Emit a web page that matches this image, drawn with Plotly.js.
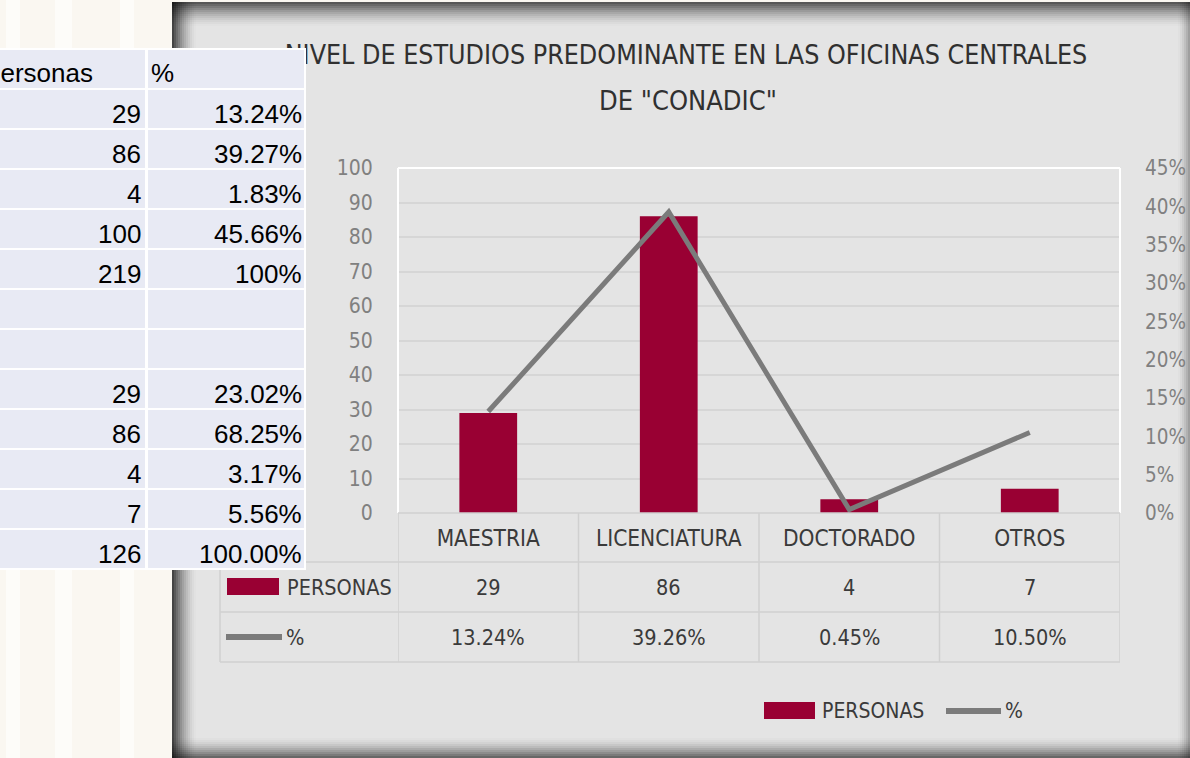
<!DOCTYPE html>
<html>
<head>
<meta charset="utf-8">
<script src="https://cdn.plot.ly/plotly-3.0.1.min.js"></script>
<style>html,body{margin:0;padding:0;background:#faf7f1;}#chart{width:1190px;height:758px;}</style>
</head>
<body>
<div id="chart"></div>
<script>
// ---- chart data ----
const categories = ['MAESTRIA', 'LICENCIATURA', 'DOCTORADO', 'OTROS'];
const personas = [29, 86, 4, 7];
const pct = [0.1324, 0.3926, 0.0045, 0.1050];
const pctLabels = ['13.24%', '39.26%', '0.45%', '10.50%'];
const leftTicks = [0, 10, 20, 30, 40, 50, 60, 70, 80, 90, 100];
const rightTicks = [0, 0.05, 0.10, 0.15, 0.20, 0.25, 0.30, 0.35, 0.40, 0.45];
const rightTickLabels = ['0%', '5%', '10%', '15%', '20%', '25%', '30%', '35%', '40%', '45%'];

// ---- spreadsheet overlay data ----
const sheetHeader = ['personas', '%'];
const sheetPersonas = ['29', '86', '4', '100', '219', '', '', '29', '86', '4', '7', '126'];
const sheetPct = ['13.24%', '39.27%', '1.83%', '45.66%', '100%', '', '', '23.02%', '68.25%', '3.17%', '5.56%', '100.00%'];

const titleLine1 = 'NIVEL DE ESTUDIOS PREDOMINANTE EN LAS OFICINAS CENTRALES';
const titleLine2 = 'DE "CONADIC"';

// ---- geometry helpers (pixel -> paper) ----
const FIG_W = 1190, FIG_H = 758;
const L = 398, R = 1120, T = 168, B = 513;
const W = R - L, H = B - T;
const px = x => (x - L) / W;
const py = y => (B - y) / H;

const NARROW = '"DejaVu Sans Condensed", "Liberation Sans Narrow", Arial, sans-serif';
const SHEET = '"Liberation Sans", Arial, sans-serif';
const BAR = '#990033';
const LINE = '#7b7b7b';
const PANEL = '#e4e4e4';

const shapes = [];
const annotations = [];

// faint background bands left of the panel
[[6, 20], [55, 72], [120, 134]].forEach(b => {
  shapes.push({type: 'rect', xref: 'paper', yref: 'paper', x0: px(b[0]), x1: px(b[1]), y0: py(0), y1: py(758),
    fillcolor: '#fdfcf9', line: {width: 0}, layer: 'below'});
});

// panel
shapes.push({type: 'rect', xref: 'paper', yref: 'paper', x0: px(172), x1: px(1190), y0: py(2), y1: py(758),
  fillcolor: PANEL, line: {width: 0}, layer: 'below'});
// panel shading edges
function strips(n, step, maxOp, mk) {
  for (let i = 0; i < n; i++) {
    const op = maxOp * Math.pow(1 - i / n, 1.6);
    shapes.push(Object.assign({type: 'rect', xref: 'paper', yref: 'paper', fillcolor: 'rgba(0,0,0,' + op.toFixed(3) + ')',
      line: {width: 0}, layer: 'below'}, mk(i, step)));
  }
}
strips(12, 2, 0.62, (i, s) => ({x0: px(172), x1: px(1190), y0: py(2 + i * s), y1: py(2 + (i + 1) * s)}));
strips(12, 2, 0.70, (i, s) => ({x0: px(172 + i * s), x1: px(172 + (i + 1) * s), y0: py(2), y1: py(758)}));
strips(10, 2, 0.55, (i, s) => ({x0: px(172), x1: px(1190), y0: py(758 - (i + 1) * s), y1: py(758 - i * s)}));
strips(6, 2, 0.30, (i, s) => ({x0: px(1190 - (i + 1) * s), x1: px(1190 - i * s), y0: py(2), y1: py(758)}));

// plot area white border (top, left, right)
shapes.push({type: 'line', xref: 'paper', yref: 'paper', x0: 0, x1: 1, y0: 1, y1: 1, line: {color: '#ffffff', width: 2}});
shapes.push({type: 'line', xref: 'paper', yref: 'paper', x0: 0, x1: 0, y0: 0, y1: 1, line: {color: '#ffffff', width: 2}});
shapes.push({type: 'line', xref: 'paper', yref: 'paper', x0: 1, x1: 1, y0: 0, y1: 1, line: {color: '#ffffff', width: 2}});

// chart data table grid
const GRID = '#d0d0d0';
const rowY = [513, 562, 612, 662];
shapes.push({type: 'line', xref: 'paper', yref: 'paper', x0: 0, x1: 1, y0: py(rowY[0]), y1: py(rowY[0]), line: {color: GRID, width: 1.5}});
for (let k = 1; k < rowY.length; k++) {
  shapes.push({type: 'line', xref: 'paper', yref: 'paper', x0: px(220), x1: 1, y0: py(rowY[k]), y1: py(rowY[k]), line: {color: GRID, width: 1.5}});
}
shapes.push({type: 'line', xref: 'paper', yref: 'paper', x0: px(220), x1: px(220), y0: py(562), y1: py(662), line: {color: GRID, width: 1.5}});
for (let c = 0; c <= categories.length; c++) {
  shapes.push({type: 'line', xref: 'x', yref: 'paper', x0: c - 0.5, x1: c - 0.5, y0: py(513), y1: py(662), line: {color: GRID, width: 1.5}});
}
// keys inside data table
shapes.push({type: 'rect', xref: 'paper', yref: 'paper', x0: px(227), x1: px(279), y0: py(595), y1: py(578), fillcolor: BAR, line: {width: 0}});
shapes.push({type: 'line', xref: 'paper', yref: 'paper', x0: px(226), x1: px(282), y0: py(637), y1: py(637), line: {color: LINE, width: 6}});
// bottom legend keys
shapes.push({type: 'rect', xref: 'paper', yref: 'paper', x0: px(764), x1: px(815), y0: py(719), y1: py(702), fillcolor: BAR, line: {width: 0}});
shapes.push({type: 'line', xref: 'paper', yref: 'paper', x0: px(946), x1: px(1001), y0: py(711), y1: py(711), line: {color: LINE, width: 6}});

const txt = '#3a3a3a';
// second title line
annotations.push({text: titleLine2, xref: 'paper', yref: 'paper', x: px(688), y: py(100), xanchor: 'center', yanchor: 'middle',
  showarrow: false, font: {family: NARROW, size: 27, color: '#303030'}});
// data table row headers
annotations.push({text: 'PERSONAS', xref: 'paper', yref: 'paper', x: px(285), y: py(587), xanchor: 'left', yanchor: 'middle', showarrow: false, font: {family: NARROW, size: 21.5, color: txt}});
annotations.push({text: '%', xref: 'paper', yref: 'paper', x: px(284), y: py(637), xanchor: 'left', yanchor: 'middle', showarrow: false, font: {family: NARROW, size: 21.5, color: txt}});
// data table values
categories.forEach((c, i) => {
  annotations.push({text: String(personas[i]), xref: 'x', yref: 'paper', x: i, y: py(587), xanchor: 'center', yanchor: 'middle', showarrow: false, font: {family: NARROW, size: 21.5, color: txt}});
  annotations.push({text: pctLabels[i], xref: 'x', yref: 'paper', x: i, y: py(637), xanchor: 'center', yanchor: 'middle', showarrow: false, font: {family: NARROW, size: 21.5, color: txt}});
});
// bottom legend labels
annotations.push({text: 'PERSONAS', xref: 'paper', yref: 'paper', x: px(820), y: py(711), xanchor: 'left', yanchor: 'middle', showarrow: false, font: {family: NARROW, size: 21, color: txt}});
annotations.push({text: '%', xref: 'paper', yref: 'paper', x: px(1003), y: py(711), xanchor: 'left', yanchor: 'middle', showarrow: false, font: {family: NARROW, size: 21, color: txt}});

// spreadsheet overlay (annotations drawn after the title so they cover its start)
function box(x0, x1, y0, y1, bg) {
  annotations.push({text: ' ', xref: 'paper', yref: 'paper', x: px(x0), y: py(y0), xanchor: 'left', yanchor: 'top',
    width: x1 - x0, height: y1 - y0, borderpad: 0, borderwidth: 0, bgcolor: bg, showarrow: false, font: {size: 10}});
}
function label(x, yBottom, text, anchor) {
  if (text === '') return;
  annotations.push({text: text, xref: 'paper', yref: 'paper', x: px(x), y: py(yBottom), xanchor: anchor, yanchor: 'bottom',
    showarrow: false, borderpad: 0, font: {family: SHEET, size: 26, color: '#000000'}});
}
const rows = [[sheetHeader[0], sheetHeader[1]]].concat(sheetPersonas.map((p, i) => [p, sheetPct[i]]));
const ROW0 = 50, ROWH = 40, GAP = 2;
box(-30, 306, ROW0 - 2, ROW0 + rows.length * ROWH, '#ffffff');
const CELL = '#e8eaf4';
rows.forEach((r, i) => {
  const y0 = ROW0 + i * ROWH, y1 = y0 + ROWH - GAP;
  box(-30, 145, y0, y1, CELL);
  box(148, 304, y0, y1, CELL);
  if (i === 0) {
    label(-15, y1 + 1, r[0], 'left');
    label(150, y1 + 1, r[1], 'left');
  } else {
    label(142, y1 + 2, r[0], 'right');
    label(303, y1 + 2, r[1], 'right');
  }
});

const traces = [
  {type: 'bar', x: categories, y: personas, name: 'PERSONAS', marker: {color: BAR}, width: 0.32, yaxis: 'y', hoverinfo: 'skip'},
  {type: 'scatter', mode: 'lines', x: categories, y: pct, name: '%', line: {color: LINE, width: 5}, yaxis: 'y2', hoverinfo: 'skip'}
];

const layout = {
  width: FIG_W, height: FIG_H,
  margin: {l: L, r: FIG_W - R, t: T, b: FIG_H - B, pad: 0},
  paper_bgcolor: '#faf7f1',
  plot_bgcolor: PANEL,
  showlegend: false,
  title: {text: titleLine1, xref: 'container', yref: 'container', x: 686 / FIG_W, xanchor: 'center', y: 1 - 55 / FIG_H, yanchor: 'middle',
    font: {family: NARROW, size: 26.6, color: '#303030'}},
  xaxis: {type: 'category', range: [-0.5, 3.5], showgrid: false, zeroline: false, showline: false,
    ticks: 'outside', ticklen: 5, tickcolor: 'rgba(0,0,0,0)', tickfont: {family: NARROW, size: 22.5, color: txt}},
  yaxis: {range: [0, 100], tickvals: leftTicks, showgrid: true, gridcolor: '#d6d6d6', gridwidth: 2, zeroline: false, showline: false,
    ticks: 'outside', ticklen: 20, tickcolor: 'rgba(0,0,0,0)', tickfont: {family: NARROW, size: 21, color: '#808080'}},
  yaxis2: {range: [0, 0.45], overlaying: 'y', side: 'right', tickvals: rightTicks, ticktext: rightTickLabels, showgrid: false, zeroline: false, showline: false,
    ticks: 'outside', ticklen: 20, tickcolor: 'rgba(0,0,0,0)', tickfont: {family: NARROW, size: 20.5, color: '#808080'}},
  shapes: shapes,
  annotations: annotations,
  bargap: 0.68
};

Plotly.newPlot('chart', traces, layout, {displayModeBar: false, staticPlot: true});
</script>
</body>
</html>
